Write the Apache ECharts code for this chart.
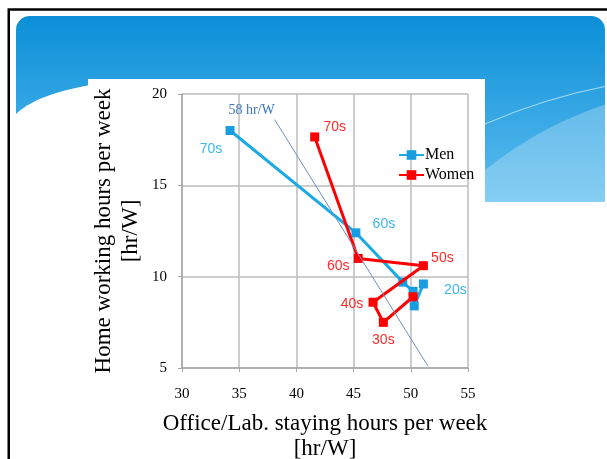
<!DOCTYPE html>
<html>
<head>
<meta charset="utf-8">
<script src="https://cdn.jsdelivr.net/npm/echarts@6/dist/echarts.min.js"></script>
<style>
  html, body { margin: 0; padding: 0; background: #fff; }
  #chart { width: 607px; height: 459px; }
</style>
</head>
<body>
<div id="chart"></div>
<script>
// office/lab hours (x) vs home working hours (y), by age group
const ageGroups = ['70s', '60s', '50s', '40s', '30s', '20s']
const menOffice = [34.2, 45.2, 49.3, 50.2, 50.3, 51.1]
const menHome = [18.0, 12.4, 9.7, 9.2, 8.4, 9.6]
const womenOffice = [41.6, 45.4, 51.1, 46.7, 47.6, 50.2]
const womenHome = [17.65, 11.0, 10.6, 8.6, 7.5, 8.9]
const menLabeled = ['70s', '60s', '20s']
const womenLabeled = ['70s', '60s', '50s', '40s', '30s']
// reference line "58 hr/W"
const refOffice = [38.1, 51.5]
const refHome = [18.6, 5.1]
const xTicks = [30, 35, 40, 45, 50, 55]
const yTicks = [5, 10, 15, 20]

const serif = 'Liberation Serif'
const sans = 'Liberation Sans'
const menColor = '#1aaae4'
const womenColor = '#ff0000'

// label offsets for each age group
const menOffsets = { '70s': [-19, 19], '60s': [28, -9], '20s': [32, 6] }
const womenOffsets = { '70s': [20, -10], '60s': [-20, 8], '50s': [19, -8], '40s': [-21, 2], '30s': [0, 18] }

const buildPoints = (xs, ys, labeled, offsets, color) => {
  return ageGroups.map((g, i) => {
    const item = { value: [xs[i], ys[i]], name: g }
    if (labeled.includes(g)) {
      item.label = {
        show: true,
        formatter: g,
        position: 'inside',
        offset: offsets[g],
        color: color,
        fontFamily: sans,
        fontSize: 14
      }
    }
    return item
  })
}

// points along a quadratic curve, for the slide's background waves
const quadPoints = (p0, c, p1) => {
  const pts = []
  for (let t = 0; t <= 1.0001; t += 0.05) {
    const a = (1 - t) * (1 - t), b = 2 * (1 - t) * t, d = t * t
    pts.push([a * p0[0] + b * c[0] + d * p1[0], a * p0[1] + b * c[1] + d * p1[1]])
  }
  return pts
}

const chart = echarts.init(document.getElementById('chart'))
const option = {
  animation: false,
  graphic: [
    {
      type: 'rect', z: -20,
      shape: { x: 16, y: 16, width: 589, height: 186, r: [14, 14, 0, 0] },
      style: {
        fill: new echarts.graphic.LinearGradient(0, 0, 0, 1, [
          { offset: 0, color: '#0b8fd8' },
          { offset: 1, color: '#5dbdef' }
        ])
      }
    },
    {
      type: 'polygon', z: -19,
      shape: { points: quadPoints([485, 170], [540, 126], [607, 104]).concat([[607, 202], [485, 202]]) },
      style: { fill: 'rgba(255,255,255,0.25)' }
    },
    {
      type: 'bezierCurve', z: -19,
      shape: { x1: 485, y1: 124, cpx1: 545, cpy1: 98, x2: 607, y2: 86 },
      style: { fill: null, stroke: 'rgba(255,255,255,0.6)', lineWidth: 1 }
    },
    {
      type: 'polygon', z: -18,
      shape: { points: quadPoints([16, 114], [40, 91], [110, 82]).concat([[110, 210], [16, 210]]) },
      style: { fill: '#fff' }
    },
    {
      type: 'rect', z: -17,
      shape: { x: 88, y: 79, width: 397, height: 380 },
      style: { fill: '#fff' }
    },
    {
      type: 'polyline', z: -16,
      shape: { points: [[8.75, 459], [8.75, 9.5], [607, 9.5]] },
      style: { fill: null, stroke: '#000', lineWidth: 2.5 }
    }
  ],
  grid: {
    left: 182,
    right: 139,
    top: 94,
    bottom: 91,
    outerBoundsMode: 'none'
  },
  legend: {
    left: 393,
    top: 142,
    orient: 'vertical',
    itemGap: 4,
    itemWidth: 25,
    itemHeight: 12,
    textStyle: { fontFamily: serif, fontSize: 16, color: '#000', padding: [0, 0, 0, -4] },
    data: ['Men', 'Women']
  },
  xAxis: {
    type: 'value',
    min: 30,
    max: 55,
    interval: 5,
    name: 'Office/Lab. staying hours per week\n[hr/W]',
    nameLocation: 'middle',
    nameGap: 43,
    nameTextStyle: { fontFamily: serif, fontSize: 23, color: '#000', lineHeight: 25 },
    axisLine: { lineStyle: { color: '#a6a6a6', width: 1.5 } },
    axisTick: { show: true, length: 4, lineStyle: { color: '#a6a6a6' } },
    axisLabel: {
      fontFamily: serif, fontSize: 15, color: '#000', margin: 19,
      formatter: v => xTicks.includes(v) ? String(v) : ''
    },
    splitLine: { lineStyle: { color: '#bdbdbd', width: 1.5 } }
  },
  yAxis: {
    type: 'value',
    min: 5,
    max: 20,
    interval: 5,
    name: 'Home working hours per week\n[hr/W]',
    nameLocation: 'middle',
    nameRotate: 90,
    nameGap: 38,
    nameTextStyle: { fontFamily: serif, fontSize: 23, color: '#000', lineHeight: 27 },
    axisLine: { show: true, lineStyle: { color: '#a6a6a6', width: 1.5 } },
    axisTick: { show: true, length: 4, lineStyle: { color: '#a6a6a6' } },
    axisLabel: {
      fontFamily: serif, fontSize: 15, color: '#000', margin: 15,
      formatter: v => yTicks.includes(v) ? String(v) : ''
    },
    splitLine: { lineStyle: { color: '#bdbdbd', width: 1.5 } }
  },
  series: [
    {
      name: 'Men',
      type: 'line',
      symbol: 'rect',
      symbolSize: 9,
      color: '#1a9de0',
      lineStyle: { width: 3, color: menColor },
      itemStyle: { color: '#1a9de0' },
      data: buildPoints(menOffice, menHome, menLabeled, menOffsets, '#3db6ec'),
      z: 3
    },
    {
      name: 'Women',
      type: 'line',
      symbol: 'rect',
      symbolSize: 9,
      color: womenColor,
      lineStyle: { width: 3, color: womenColor },
      itemStyle: { color: womenColor },
      data: buildPoints(womenOffice, womenHome, womenLabeled, womenOffsets, '#ff2b2b'),
      z: 4
    },
    {
      name: '58 hr/W',
      type: 'line',
      symbol: 'circle',
      symbolSize: 0,
      silent: true,
      lineStyle: { width: 1, color: '#6f8cc0' },
      itemStyle: { color: '#6f8cc0' },
      data: [
        {
          value: [refOffice[0], refHome[0]],
          label: {
            show: true,
            formatter: '58 hr/W',
            position: 'inside',
            offset: [-23, -9],
            color: '#3a74bc',
            fontFamily: serif,
            fontSize: 14
          }
        },
        { value: [refOffice[1], refHome[1]] }
      ],
      z: 5
    }
  ]
}
option && chart.setOption(option)
</script>
</body>
</html>
